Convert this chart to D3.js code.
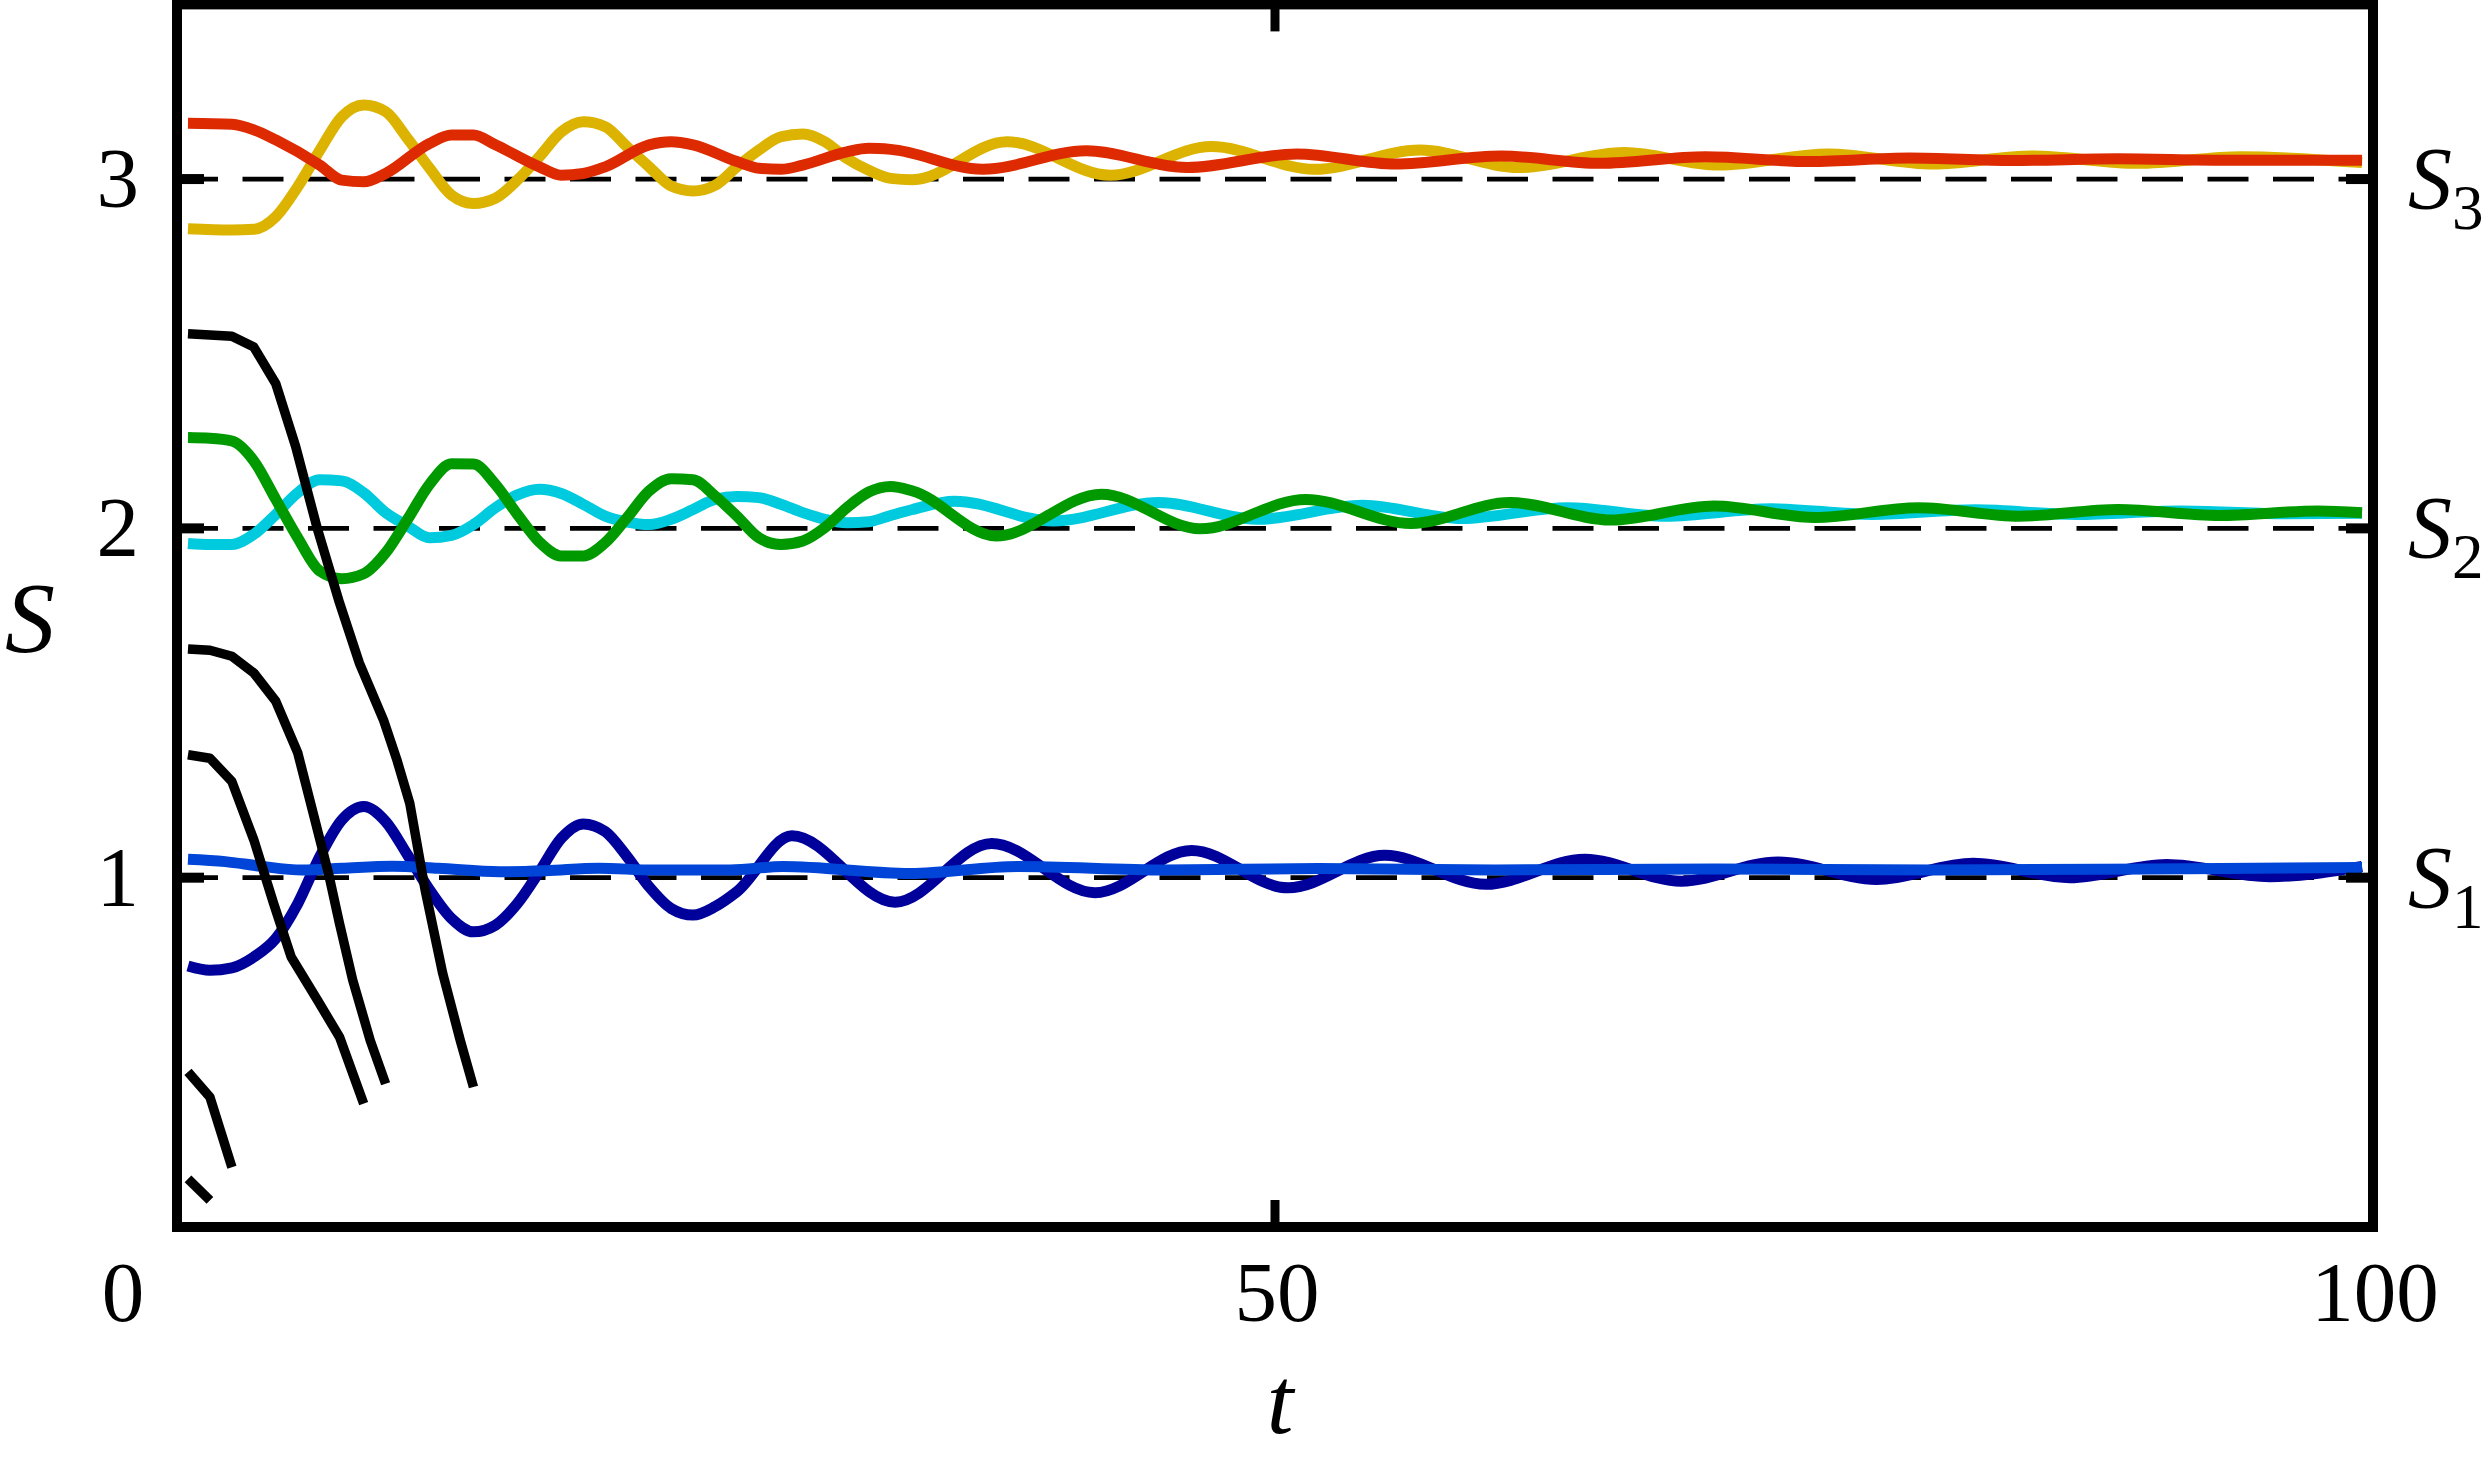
<!DOCTYPE html>
<html>
<head>
<meta charset="utf-8">
<script src="https://cdn.jsdelivr.net/npm/d3@7"></script>
<style>
  html, body { margin: 0; padding: 0; background: #fff; }
  svg { display: block; }
  text { font-family: "Liberation Serif", "Times New Roman", serif; fill: #000; }
</style>
</head>
<body>
<svg id="chart" width="2485" height="1462"></svg>
<script>
// t / S values
const redSeries = [[0.5,3.160],[2.5,3.157],[3.5,3.141],[4.5,3.112],[6.5,3.040],[7.5,2.997],[8.5,2.992],[9.5,3.016],[11.5,3.102],[12.5,3.126],[13.5,3.126],[14.5,3.098],[16.5,3.035],[17.5,3.011],[18.5,3.016],[19.5,3.035],[21.5,3.098],[22.5,3.107],[23.5,3.098],[25.5,3.050],[26.5,3.031],[27.5,3.028],[28.5,3.040],[30.5,3.078],[31.5,3.088],[32.5,3.085],[36.7,3.028],[41.4,3.081],[46.0,3.033],[51.0,3.072],[55.5,3.043],[60.3,3.066],[64.8,3.045],[69.6,3.064],[74.4,3.050],[78.9,3.060],[83.6,3.053],[88.4,3.058],[93.2,3.054],[99.5,3.054]];

const goldSeries = [[0.5,2.858],[2.5,2.854],[3.5,2.856],[4.5,2.892],[5.5,2.978],[6.5,3.082],[7.5,3.178],[8.5,3.212],[9.5,3.193],[10.5,3.116],[11.5,3.031],[12.5,2.954],[13.5,2.930],[14.5,2.945],[15.5,2.997],[16.5,3.064],[17.5,3.135],[18.5,3.164],[19.5,3.150],[20.5,3.092],[21.5,3.035],[22.5,2.980],[23.5,2.966],[24.5,2.982],[25.5,3.035],[26.5,3.083],[27.5,3.121],[28.5,3.129],[29.5,3.107],[30.5,3.059],[31.5,3.025],[32.5,3.002],[33.5,2.998],[37.8,3.107],[42.5,3.011],[47.1,3.093],[51.8,3.028],[56.6,3.083],[61.1,3.033],[65.9,3.076],[70.2,3.040],[75.2,3.072],[80.0,3.043],[84.5,3.066],[89.3,3.045],[94.0,3.064],[99.5,3.047]];

const greenSeries = [[0.5,2.260],[1.5,2.258],[2.5,2.250],[3.5,2.193],[4.5,2.083],[5.5,1.973],[6.5,1.878],[7.5,1.856],[8.5,1.870],[9.5,1.930],[10.5,2.026],[11.5,2.126],[12.5,2.185],[13.5,2.184],[14.5,2.126],[15.5,2.040],[16.5,1.961],[17.5,1.921],[18.5,1.921],[19.5,1.959],[20.5,2.031],[21.5,2.107],[22.5,2.142],[23.5,2.139],[24.5,2.093],[25.5,2.035],[26.5,1.973],[27.5,1.954],[28.5,1.964],[29.5,2.002],[30.5,2.059],[31.5,2.104],[32.5,2.120],[33.5,2.107],[37.3,1.978],[42.1,2.098],[46.6,1.999],[51.4,2.083],[56.2,2.014],[60.7,2.074],[65.3,2.024],[70.0,2.064],[74.6,2.031],[79.3,2.059],[83.9,2.035],[88.4,2.054],[93.0,2.037],[97.5,2.050],[99.5,2.045]];

const cyanSeries = [[0.5,1.957],[1.5,1.954],[2.5,1.954],[3.5,1.983],[4.5,2.040],[5.5,2.102],[6.5,2.139],[7.5,2.136],[8.5,2.102],[9.5,2.045],[10.5,2.007],[11.5,1.973],[12.5,1.980],[13.5,2.011],[14.5,2.059],[15.5,2.096],[16.5,2.112],[17.5,2.100],[18.5,2.069],[19.5,2.035],[20.5,2.018],[21.5,2.011],[22.5,2.026],[23.5,2.054],[24.5,2.083],[25.5,2.091],[26.5,2.088],[27.5,2.069],[28.5,2.045],[29.5,2.026],[30.5,2.016],[31.5,2.019],[32.5,2.037],[33.5,2.054],[35.4,2.078],[39.9,2.021],[44.7,2.074],[49.2,2.026],[54.0,2.066],[58.5,2.028],[63.3,2.059],[67.8,2.035],[72.6,2.056],[77.2,2.040],[81.9,2.053],[86.5,2.040],[91.2,2.050],[95.8,2.042],[99.5,2.043]];

const navySeries = [[0.5,0.747],[1.5,0.735],[2.5,0.742],[3.5,0.773],[4.5,0.826],[5.5,0.926],[6.5,1.060],[7.5,1.165],[8.5,1.204],[9.5,1.161],[10.5,1.065],[11.5,0.965],[12.5,0.883],[13.5,0.845],[14.5,0.864],[15.5,0.926],[16.5,1.017],[17.5,1.113],[18.5,1.154],[19.5,1.132],[20.5,1.060],[21.5,0.974],[22.5,0.912],[23.5,0.893],[24.5,0.917],[25.5,0.960],[28.0,1.120],[32.7,0.930],[37.1,1.098],[41.8,0.957],[46.2,1.078],[50.6,0.971],[55.0,1.064],[59.6,0.981],[64.1,1.053],[68.5,0.990],[72.9,1.045],[77.4,0.995],[81.8,1.041],[86.2,1.000],[90.6,1.038],[95.3,1.003],[99.5,1.032]];

const blueSeries = [[0.5,1.053],[2.2,1.046],[3.8,1.033],[5.7,1.022],[7.5,1.027],[9.8,1.033],[11.9,1.027],[14.7,1.017],[16.8,1.020],[19.2,1.027],[21.7,1.022],[25.2,1.022],[27.6,1.032],[33.4,1.012],[38.3,1.032],[45.0,1.022],[52.0,1.026],[60.0,1.022],[70.0,1.025],[80.0,1.022],[90.0,1.025],[99.5,1.029]];

const blackSeries = [
    [[0.5,2.557],[2.5,2.550],[3.5,2.519],[4.5,2.414],[5.4,2.235],[6.4,1.997],[7.4,1.787],[8.3,1.615],[9.4,1.452],[10.0,1.340],[10.6,1.213],[11.3,0.965],[12.1,0.726],[12.9,0.534],[13.5,0.401]],
    [[0.5,1.655],[1.5,1.651],[2.5,1.634],[3.5,1.586],[4.5,1.505],[5.5,1.357],[6.2,1.185],[6.9,1.012],[7.4,0.869],[8.0,0.707],[8.8,0.534],[9.5,0.410]],
    [[0.5,1.352],[1.5,1.342],[2.5,1.275],[3.5,1.108],[4.4,0.926],[5.2,0.773],[6.4,0.649],[7.4,0.544],[8.5,0.353]],
    [[0.5,0.444],[1.5,0.372],[2.5,0.171]],
    [[0.5,0.138],[1.5,0.076]]
];

const fixedPoints = [1, 2, 3];
const fixedLabels = ["1", "2", "3"];
const xTicks = [0, 50, 100];
const xTickLabels = ["0", "50", "100"];

const svg = d3.select("#chart");

const x = d3.scaleLinear().domain([0, 100]).range([177, 2373]);
const y = d3.scaleLinear().domain([0, 3.5]).range([1227, 4.4]);

const smoothLine = d3.line()
    .x(d => x(d[0]))
    .y(d => y(d[1]))
    .curve(d3.curveMonotoneX);

const straightLine = d3.line()
    .x(d => x(d[0]))
    .y(d => y(d[1]));

// dashed reference lines at the fixed points
svg.append("g")
    .selectAll("line")
    .data(fixedPoints)
    .join("line")
    .attr("x1", x(0))
    .attr("x2", x(100))
    .attr("y1", d => y(d))
    .attr("y2", d => y(d))
    .attr("stroke", "#000")
    .attr("stroke-width", 4.7)
    .attr("stroke-dasharray", "41 24.5");

const colored = [
    { data: goldSeries, color: "#dbb300" },
    { data: redSeries, color: "#dd2a00" },
    { data: cyanSeries, color: "#00cadd" },
    { data: greenSeries, color: "#009a00" },
    { data: navySeries, color: "#00009a" },
    { data: blueSeries, color: "#0045d8" }
];

svg.append("g")
    .selectAll("path")
    .data(colored)
    .join("path")
    .attr("d", d => smoothLine(d.data))
    .attr("fill", "none")
    .attr("stroke", d => d.color)
    .attr("stroke-width", 11)
    .attr("stroke-linejoin", "round");

svg.append("g")
    .selectAll("path")
    .data(blackSeries)
    .join("path")
    .attr("d", d => straightLine(d))
    .attr("fill", "none")
    .attr("stroke", "#000")
    .attr("stroke-width", 9.5)
    .attr("stroke-linejoin", "round")
    .attr("stroke-linecap", "butt");

// frame
svg.append("rect")
    .attr("x", x(0))
    .attr("y", y(3.5))
    .attr("width", x(100) - x(0))
    .attr("height", y(0) - y(3.5))
    .attr("fill", "none")
    .attr("stroke", "#000")
    .attr("stroke-width", 10);

// frame ticks
const ticks = svg.append("g").attr("stroke", "#000").attr("stroke-width", 10);
ticks.selectAll(".yl").data(fixedPoints).join("line")
    .attr("x1", x(0)).attr("x2", x(0) + 27)
    .attr("y1", d => y(d)).attr("y2", d => y(d));
ticks.selectAll(".yr").data(fixedPoints).join("line")
    .attr("x1", x(100) - 27).attr("x2", x(100))
    .attr("y1", d => y(d)).attr("y2", d => y(d));
ticks.append("line")
    .attr("x1", x(50)).attr("x2", x(50))
    .attr("y1", y(3.5)).attr("y2", y(3.5) + 27)
    .attr("stroke-width", 9);
ticks.append("line")
    .attr("x1", x(50)).attr("x2", x(50))
    .attr("y1", y(0)).attr("y2", y(0) - 27)
    .attr("stroke-width", 9);

// tick labels
svg.append("g")
    .selectAll("text")
    .data(fixedLabels)
    .join("text")
    .attr("x", 139)
    .attr("y", (d, i) => y(fixedPoints[i]) + 28)
    .attr("text-anchor", "end")
    .attr("font-size", 85)
    .text(d => d);

const xLabelPos = [123, x(50) + 2, x(100) + 2];
svg.append("g")
    .selectAll("text")
    .data(xTickLabels)
    .join("text")
    .attr("x", (d, i) => xLabelPos[i])
    .attr("y", 1321)
    .attr("text-anchor", "middle")
    .attr("font-size", 85)
    .text(d => d);

// right-hand labels S_1, S_2, S_3
const rightLabels = svg.append("g")
    .selectAll("text")
    .data(fixedPoints)
    .join("text")
    .attr("x", 2408)
    .attr("y", d => y(d) + 29)
    .attr("font-size", 88);
rightLabels.append("tspan").attr("font-style", "italic").text("S");
rightLabels.append("tspan").attr("font-size", 63).attr("dy", 21).text(d => d);

// axis titles
svg.append("text")
    .attr("x", 1280)
    .attr("y", 1433)
    .attr("text-anchor", "middle")
    .attr("font-size", 96)
    .attr("font-style", "italic")
    .text("t");

svg.append("text")
    .attr("x", 30)
    .attr("y", 651)
    .attr("text-anchor", "middle")
    .attr("font-size", 100)
    .attr("font-style", "italic")
    .text("S");
</script>
</body>
</html>
